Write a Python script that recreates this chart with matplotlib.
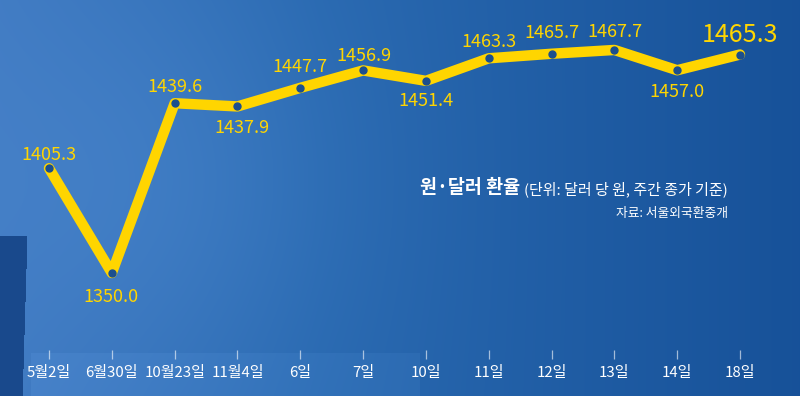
import numpy as np
import matplotlib
matplotlib.use("Agg")
import matplotlib.pyplot as plt

plt.rcParams['font.family'] = ['Noto Sans CJK KR', 'DejaVu Sans']

# ---- data ----
dates = ["5월2일", "6월30일", "10월23일", "11월4일", "6일", "7일",
         "10일", "11일", "12일", "13일", "14일", "18일"]
rates = [1405.3, 1350.0, 1439.6, 1437.9, 1447.7, 1456.9,
         1451.4, 1463.3, 1465.7, 1467.7, 1457.0, 1465.3]
title_main = "원·달러 환율"
title_unit = "(단위: 달러 당 원, 주간 종가 기준)"
source = "자료: 서울외국환중개"

# label placement (pixel offsets of label centre from point; + = up)
label_dx = [0, -1, 0, 4, 0, 1, 0, 0, 0, 1, 0, 0]
label_dy = [15, -22, 18, -20, 22, 16, -19, 18, 22, 19, -20, 22]

W, H = 800, 396
fig = plt.figure(figsize=(W / 100, H / 100), dpi=100)

# ---- background (smooth blue gradient) ----
yy, xx = np.mgrid[0:H, 0:W].astype(float)
light = np.array([0.25, 0.48, 0.76])
mid = np.array([0.16, 0.41, 0.69])
dark = np.array([0.09, 0.32, 0.60])
t = np.clip(xx / W, 0, 1)[..., None]
base = np.where(t < 0.4, light + (mid - light) * (t / 0.4),
                mid + (dark - mid) * ((t - 0.4) / 0.6))
glow = np.exp(-(((xx - 170) / 200) ** 2 + ((yy - 180) / 200) ** 2))[..., None]
base = base + 0.04 * glow
rect = ((xx < 27 - (yy - 235) * 0.03) & (yy > 235))[..., None]
base = np.where(rect, np.array([0.10, 0.29, 0.55]), base)
band = ((yy > 352) & (xx > 30) & (xx < 420))[..., None]
base = np.where(band, base + 0.025, base)
img = np.clip(base, 0, 1)

bg = fig.add_axes([0, 0, 1, 1])
bg.imshow(img, extent=[0, W, H, 0], aspect='auto', interpolation='bilinear')
bg.set_axis_off()

# ---- chart axes ----
axis_px = 350
ax = fig.add_axes([0, (H - axis_px) / H, 1, axis_px / H])
ax.patch.set_alpha(0)
x = np.arange(len(rates))
ax.set_xlim(-0.78, 11.955)
ax.set_ylim(1309.4, 1494.06)

yellow = '#FFD500'
dot = '#1B4F8E'
ax.plot(x, rates, color=yellow, lw=7.5, solid_joinstyle='round',
        solid_capstyle='round', zorder=3)
ax.plot(x, rates, 'o', ms=5.0, mfc=dot, mec=dot, zorder=4)

px2pt = 0.72
for i, (xi, v) in enumerate(zip(x, rates)):
    big = (i == len(rates) - 1)
    cap = 18 if big else 13
    ax.annotate(f"{v:.1f}", (xi, v),
                xytext=(label_dx[i] * px2pt, (label_dy[i] - cap / 2) * px2pt),
                textcoords='offset points', ha='center', va='baseline',
                color=yellow, fontsize=18 if big else 13, zorder=5)

ax.set_xticks(x)
ax.set_xticklabels(dates)
ax.tick_params(axis='x', direction='out', length=6.5, width=0.9,
               color=(1, 1, 1, 0.6), pad=5, labelsize=10.8, labelcolor='white')
ax.tick_params(axis='y', left=False, labelleft=False)
for s in ax.spines.values():
    s.set_visible(False)

# ---- titles ----
fig.text(520 / W, 1 - 188 / H, title_main, ha='right', va='center',
         color='white', fontsize=13.3, fontweight='bold')
fig.text(728 / W, 1 - 189 / H, title_unit, ha='right', va='center',
         color='white', fontsize=10.8)
fig.text(728 / W, 1 - 213 / H, source, ha='right', va='center',
         color='white', fontsize=9.2)

fig.savefig('out.png', dpi=100)
